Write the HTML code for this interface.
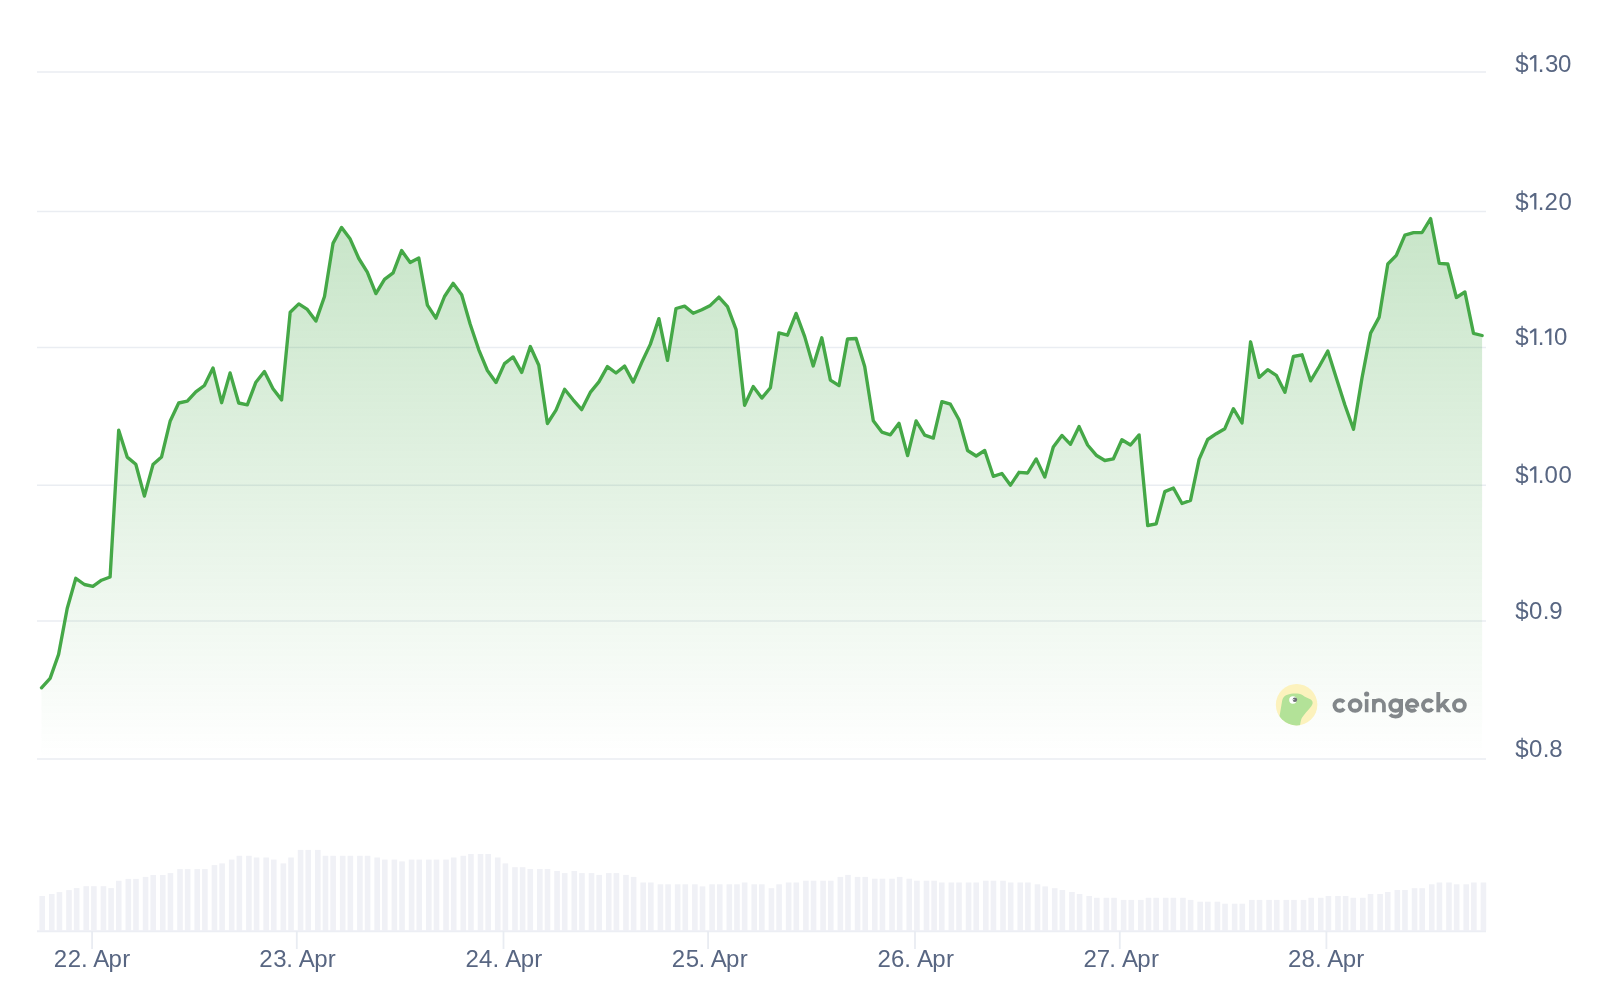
<!DOCTYPE html>
<html>
<head>
<meta charset="utf-8">
<title>Price chart</title>
<style>
html,body{margin:0;padding:0;background:#ffffff;}
body{width:1600px;height:1005px;overflow:hidden;font-family:"Liberation Sans",sans-serif;}
svg{display:block;will-change:transform;}
.lbl{font-family:"Liberation Sans",sans-serif;font-size:24px;fill:#586682;}
</style>
</head>
<body>
<svg width="1600" height="1005" viewBox="0 0 1600 1005">
<defs>
<linearGradient id="ag" gradientUnits="userSpaceOnUse" x1="0" y1="218" x2="0" y2="759">
<stop offset="0" stop-color="#45a847" stop-opacity="0.30"/>
<stop offset="1" stop-color="#45a847" stop-opacity="0"/>
</linearGradient>
<clipPath id="kc"><rect x="1438" y="699.1" width="14" height="13.15"/></clipPath>
<clipPath id="lc"><circle cx="1296.6" cy="704.7" r="20.75"/></clipPath>
</defs>

<g stroke="#eaedf2" stroke-width="1.5" fill="none">
<line x1="37" y1="72.0" x2="1486" y2="72.0"/>
<line x1="37" y1="211.4" x2="1486" y2="211.4"/>
<line x1="37" y1="347.4" x2="1486" y2="347.4"/>
<line x1="37" y1="485.2" x2="1486" y2="485.2"/>
<line x1="37" y1="621.1" x2="1486" y2="621.1"/>
<line x1="37" y1="759.0" x2="1486" y2="759.0"/>
</g>
<g fill="#f0f1f6">
<rect x="39.40" y="896.0" width="5.6" height="34.5"/>
<rect x="48.97" y="894.0" width="5.6" height="36.5"/>
<rect x="56.63" y="892.1" width="5.6" height="38.4"/>
<rect x="66.20" y="890.1" width="5.6" height="40.4"/>
<rect x="73.85" y="888.1" width="5.6" height="42.4"/>
<rect x="83.42" y="886.2" width="5.6" height="44.2"/>
<rect x="91.08" y="886.2" width="5.6" height="44.2"/>
<rect x="100.65" y="886.2" width="5.6" height="44.2"/>
<rect x="108.30" y="888.1" width="5.6" height="42.4"/>
<rect x="115.96" y="880.8" width="5.6" height="49.8"/>
<rect x="125.53" y="878.9" width="5.6" height="51.6"/>
<rect x="133.19" y="878.9" width="5.6" height="51.6"/>
<rect x="142.76" y="876.9" width="5.6" height="53.6"/>
<rect x="150.41" y="875.0" width="5.6" height="55.5"/>
<rect x="159.98" y="875.0" width="5.6" height="55.5"/>
<rect x="167.64" y="873.1" width="5.6" height="57.4"/>
<rect x="177.21" y="869.1" width="5.6" height="61.4"/>
<rect x="184.86" y="869.1" width="5.6" height="61.4"/>
<rect x="194.43" y="869.1" width="5.6" height="61.4"/>
<rect x="202.09" y="869.1" width="5.6" height="61.4"/>
<rect x="211.66" y="865.1" width="5.6" height="65.4"/>
<rect x="219.32" y="863.4" width="5.6" height="67.1"/>
<rect x="228.89" y="859.6" width="5.6" height="70.9"/>
<rect x="236.54" y="855.8" width="5.6" height="74.8"/>
<rect x="246.11" y="855.8" width="5.6" height="74.8"/>
<rect x="253.77" y="857.5" width="5.6" height="73.0"/>
<rect x="263.34" y="857.5" width="5.6" height="73.0"/>
<rect x="270.99" y="859.6" width="5.6" height="70.9"/>
<rect x="280.56" y="863.4" width="5.6" height="67.1"/>
<rect x="288.22" y="857.5" width="5.6" height="73.0"/>
<rect x="297.79" y="849.9" width="5.6" height="80.6"/>
<rect x="305.45" y="849.9" width="5.6" height="80.6"/>
<rect x="315.02" y="849.9" width="5.6" height="80.6"/>
<rect x="322.67" y="855.8" width="5.6" height="74.8"/>
<rect x="330.33" y="855.8" width="5.6" height="74.8"/>
<rect x="339.90" y="855.8" width="5.6" height="74.8"/>
<rect x="347.55" y="855.8" width="5.6" height="74.8"/>
<rect x="357.12" y="855.8" width="5.6" height="74.8"/>
<rect x="364.78" y="855.8" width="5.6" height="74.8"/>
<rect x="374.35" y="857.5" width="5.6" height="73.0"/>
<rect x="382.01" y="859.6" width="5.6" height="70.9"/>
<rect x="391.58" y="859.6" width="5.6" height="70.9"/>
<rect x="399.23" y="861.4" width="5.6" height="69.1"/>
<rect x="408.80" y="859.6" width="5.6" height="70.9"/>
<rect x="416.46" y="859.6" width="5.6" height="70.9"/>
<rect x="426.03" y="859.6" width="5.6" height="70.9"/>
<rect x="433.68" y="859.6" width="5.6" height="70.9"/>
<rect x="443.25" y="859.6" width="5.6" height="70.9"/>
<rect x="450.91" y="857.5" width="5.6" height="73.0"/>
<rect x="460.48" y="855.8" width="5.6" height="74.8"/>
<rect x="468.14" y="854.0" width="5.6" height="76.5"/>
<rect x="477.71" y="854.0" width="5.6" height="76.5"/>
<rect x="485.36" y="854.0" width="5.6" height="76.5"/>
<rect x="494.93" y="857.5" width="5.6" height="73.0"/>
<rect x="502.59" y="863.4" width="5.6" height="67.1"/>
<rect x="512.16" y="867.2" width="5.6" height="63.3"/>
<rect x="519.81" y="867.2" width="5.6" height="63.3"/>
<rect x="527.47" y="869.0" width="5.6" height="61.5"/>
<rect x="537.04" y="869.0" width="5.6" height="61.5"/>
<rect x="544.70" y="869.0" width="5.6" height="61.5"/>
<rect x="554.27" y="871.0" width="5.6" height="59.5"/>
<rect x="561.92" y="873.1" width="5.6" height="57.4"/>
<rect x="571.49" y="871.0" width="5.6" height="59.5"/>
<rect x="579.15" y="873.1" width="5.6" height="57.4"/>
<rect x="588.72" y="873.1" width="5.6" height="57.4"/>
<rect x="596.37" y="874.9" width="5.6" height="55.6"/>
<rect x="605.94" y="873.1" width="5.6" height="57.4"/>
<rect x="613.60" y="873.1" width="5.6" height="57.4"/>
<rect x="623.17" y="874.9" width="5.6" height="55.6"/>
<rect x="630.83" y="876.9" width="5.6" height="53.6"/>
<rect x="640.40" y="882.5" width="5.6" height="48.0"/>
<rect x="648.05" y="882.5" width="5.6" height="48.0"/>
<rect x="657.62" y="884.3" width="5.6" height="46.2"/>
<rect x="665.28" y="884.3" width="5.6" height="46.2"/>
<rect x="674.85" y="884.3" width="5.6" height="46.2"/>
<rect x="682.50" y="884.3" width="5.6" height="46.2"/>
<rect x="692.07" y="884.3" width="5.6" height="46.2"/>
<rect x="699.73" y="886.4" width="5.6" height="44.1"/>
<rect x="709.30" y="884.3" width="5.6" height="46.2"/>
<rect x="716.96" y="884.3" width="5.6" height="46.2"/>
<rect x="726.53" y="884.3" width="5.6" height="46.2"/>
<rect x="734.18" y="884.3" width="5.6" height="46.2"/>
<rect x="741.84" y="882.5" width="5.6" height="48.0"/>
<rect x="751.41" y="884.3" width="5.6" height="46.2"/>
<rect x="759.06" y="884.3" width="5.6" height="46.2"/>
<rect x="768.63" y="888.2" width="5.6" height="42.3"/>
<rect x="776.29" y="884.3" width="5.6" height="46.2"/>
<rect x="785.86" y="882.5" width="5.6" height="48.0"/>
<rect x="793.52" y="882.5" width="5.6" height="48.0"/>
<rect x="803.09" y="880.7" width="5.6" height="49.8"/>
<rect x="810.74" y="880.7" width="5.6" height="49.8"/>
<rect x="820.31" y="880.7" width="5.6" height="49.8"/>
<rect x="827.97" y="880.7" width="5.6" height="49.8"/>
<rect x="837.54" y="876.9" width="5.6" height="53.6"/>
<rect x="845.19" y="874.9" width="5.6" height="55.6"/>
<rect x="854.76" y="876.9" width="5.6" height="53.6"/>
<rect x="862.42" y="876.9" width="5.6" height="53.6"/>
<rect x="871.99" y="878.7" width="5.6" height="51.8"/>
<rect x="879.65" y="878.7" width="5.6" height="51.8"/>
<rect x="889.22" y="878.7" width="5.6" height="51.8"/>
<rect x="896.87" y="876.9" width="5.6" height="53.6"/>
<rect x="906.44" y="878.7" width="5.6" height="51.8"/>
<rect x="914.10" y="880.7" width="5.6" height="49.8"/>
<rect x="923.67" y="880.7" width="5.6" height="49.8"/>
<rect x="931.32" y="880.7" width="5.6" height="49.8"/>
<rect x="938.98" y="882.5" width="5.6" height="48.0"/>
<rect x="948.55" y="882.5" width="5.6" height="48.0"/>
<rect x="956.21" y="882.5" width="5.6" height="48.0"/>
<rect x="965.78" y="882.5" width="5.6" height="48.0"/>
<rect x="973.43" y="882.5" width="5.6" height="48.0"/>
<rect x="983.00" y="880.7" width="5.6" height="49.8"/>
<rect x="990.66" y="880.7" width="5.6" height="49.8"/>
<rect x="1000.23" y="880.7" width="5.6" height="49.8"/>
<rect x="1007.88" y="882.5" width="5.6" height="48.0"/>
<rect x="1017.45" y="882.5" width="5.6" height="48.0"/>
<rect x="1025.11" y="882.5" width="5.6" height="48.0"/>
<rect x="1034.68" y="884.3" width="5.6" height="46.2"/>
<rect x="1042.34" y="886.4" width="5.6" height="44.1"/>
<rect x="1051.91" y="888.2" width="5.6" height="42.3"/>
<rect x="1059.56" y="890.0" width="5.6" height="40.5"/>
<rect x="1069.13" y="892.0" width="5.6" height="38.5"/>
<rect x="1076.79" y="894.0" width="5.6" height="36.5"/>
<rect x="1086.36" y="896.0" width="5.6" height="34.5"/>
<rect x="1094.01" y="897.8" width="5.6" height="32.7"/>
<rect x="1103.58" y="897.8" width="5.6" height="32.7"/>
<rect x="1111.24" y="897.8" width="5.6" height="32.7"/>
<rect x="1120.81" y="899.9" width="5.6" height="30.6"/>
<rect x="1128.47" y="899.9" width="5.6" height="30.6"/>
<rect x="1138.04" y="899.9" width="5.6" height="30.6"/>
<rect x="1145.69" y="897.8" width="5.6" height="32.7"/>
<rect x="1153.35" y="897.8" width="5.6" height="32.7"/>
<rect x="1162.92" y="897.8" width="5.6" height="32.7"/>
<rect x="1170.57" y="897.8" width="5.6" height="32.7"/>
<rect x="1180.14" y="897.8" width="5.6" height="32.7"/>
<rect x="1187.80" y="899.9" width="5.6" height="30.6"/>
<rect x="1197.37" y="901.7" width="5.6" height="28.8"/>
<rect x="1205.03" y="901.7" width="5.6" height="28.8"/>
<rect x="1214.60" y="901.7" width="5.6" height="28.8"/>
<rect x="1222.25" y="903.7" width="5.6" height="26.8"/>
<rect x="1231.82" y="903.7" width="5.6" height="26.8"/>
<rect x="1239.48" y="903.7" width="5.6" height="26.8"/>
<rect x="1249.05" y="899.9" width="5.6" height="30.6"/>
<rect x="1256.70" y="899.9" width="5.6" height="30.6"/>
<rect x="1266.27" y="899.9" width="5.6" height="30.6"/>
<rect x="1273.93" y="899.9" width="5.6" height="30.6"/>
<rect x="1283.50" y="899.9" width="5.6" height="30.6"/>
<rect x="1291.16" y="899.9" width="5.6" height="30.6"/>
<rect x="1300.73" y="899.9" width="5.6" height="30.6"/>
<rect x="1308.38" y="897.8" width="5.6" height="32.7"/>
<rect x="1317.95" y="897.8" width="5.6" height="32.7"/>
<rect x="1325.61" y="896.0" width="5.6" height="34.5"/>
<rect x="1335.18" y="896.0" width="5.6" height="34.5"/>
<rect x="1342.83" y="896.0" width="5.6" height="34.5"/>
<rect x="1350.49" y="897.8" width="5.6" height="32.7"/>
<rect x="1360.06" y="897.8" width="5.6" height="32.7"/>
<rect x="1367.72" y="894.0" width="5.6" height="36.5"/>
<rect x="1377.29" y="894.0" width="5.6" height="36.5"/>
<rect x="1384.94" y="892.0" width="5.6" height="38.5"/>
<rect x="1394.51" y="890.0" width="5.6" height="40.5"/>
<rect x="1402.17" y="890.0" width="5.6" height="40.5"/>
<rect x="1411.74" y="888.2" width="5.6" height="42.3"/>
<rect x="1419.39" y="888.2" width="5.6" height="42.3"/>
<rect x="1428.96" y="884.3" width="5.6" height="46.2"/>
<rect x="1436.62" y="882.5" width="5.6" height="48.0"/>
<rect x="1446.19" y="882.5" width="5.6" height="48.0"/>
<rect x="1453.85" y="884.3" width="5.6" height="46.2"/>
<rect x="1463.42" y="884.3" width="5.6" height="46.2"/>
<rect x="1471.07" y="882.5" width="5.6" height="48.0"/>
<rect x="1480.64" y="882.5" width="5.6" height="48.0"/>
</g>
<line x1="37" y1="931.2" x2="1486" y2="931.2" stroke="#eceef4" stroke-width="2"/>
<g stroke="#e9ecf2" stroke-width="1.8">
<line x1="92.1" y1="931" x2="92.1" y2="949"/>
<line x1="296.8" y1="931" x2="296.8" y2="949"/>
<line x1="503.5" y1="931" x2="503.5" y2="949"/>
<line x1="708.1" y1="931" x2="708.1" y2="949"/>
<line x1="915.0" y1="931" x2="915.0" y2="949"/>
<line x1="1119.8" y1="931" x2="1119.8" y2="949"/>
<line x1="1326.4" y1="931" x2="1326.4" y2="949"/>
</g>
<path d="M41.5 687.8 L50.1 678.4 L58.6 654.4 L67.2 608.5 L75.8 578.3 L84.4 584.5 L92.9 586.3 L101.5 580.2 L110.1 577.0 L118.7 430.2 L127.2 457.1 L135.8 464.2 L144.4 496.1 L153.0 464.6 L161.5 457.1 L170.1 421.3 L178.7 403.0 L187.3 401.2 L195.8 391.9 L204.4 385.5 L213.0 367.9 L221.6 402.7 L230.1 372.9 L238.7 403.0 L247.3 404.8 L255.9 382.2 L264.4 371.5 L273.0 388.8 L281.6 399.9 L290.2 312.2 L298.8 303.9 L307.3 309.4 L315.9 321.1 L324.5 296.5 L333.0 243.4 L341.6 227.4 L350.2 239.1 L358.8 258.5 L367.3 272.1 L375.9 293.6 L384.5 279.3 L393.1 272.8 L401.6 250.6 L410.2 262.6 L418.8 258.0 L427.4 305.1 L435.9 318.2 L444.5 296.5 L453.1 283.3 L461.7 294.8 L470.2 324.2 L478.8 349.8 L487.4 370.5 L496.0 382.5 L504.5 363.6 L513.1 356.9 L521.7 372.4 L530.3 346.5 L538.8 365.3 L547.4 423.5 L556.0 410.1 L564.6 389.3 L573.1 399.8 L581.7 409.6 L590.3 392.4 L598.9 381.9 L607.4 366.6 L616.0 373.0 L624.6 366.1 L633.2 382.1 L641.8 362.3 L650.3 344.4 L658.9 318.6 L667.5 360.4 L676.0 308.5 L684.6 306.1 L693.2 313.3 L701.8 309.7 L710.3 305.4 L718.9 297.1 L727.5 306.6 L736.1 329.6 L744.6 405.3 L753.2 386.6 L761.8 398.1 L770.4 387.8 L778.9 332.9 L787.5 335.2 L796.1 313.4 L804.7 336.6 L813.2 366.0 L821.8 337.8 L830.4 380.1 L839.0 385.6 L847.5 339.0 L856.1 338.5 L864.7 366.4 L873.3 420.7 L881.8 432.1 L890.4 434.8 L899.0 423.3 L907.6 455.6 L916.1 420.9 L924.7 435.2 L933.3 438.1 L941.9 401.6 L950.4 404.2 L959.0 419.7 L967.6 450.5 L976.2 456.0 L984.7 450.5 L993.3 476.3 L1001.9 473.5 L1010.5 485.2 L1019.0 472.3 L1027.6 473.0 L1036.2 458.9 L1044.8 477.1 L1053.3 447.0 L1061.9 435.4 L1070.5 444.3 L1079.1 426.6 L1087.6 445.0 L1096.2 455.2 L1104.8 460.5 L1113.4 458.8 L1121.9 439.7 L1130.5 445.0 L1139.1 434.9 L1147.7 525.5 L1156.2 523.8 L1164.8 491.6 L1173.4 488.0 L1182.0 503.5 L1190.5 500.4 L1199.1 459.3 L1207.7 439.5 L1216.3 433.7 L1224.8 428.7 L1233.4 408.7 L1242.0 423.0 L1250.6 341.8 L1259.1 377.4 L1267.7 369.7 L1276.3 375.3 L1284.9 392.3 L1293.4 356.5 L1302.0 354.8 L1310.6 380.8 L1319.2 366.5 L1327.8 351.0 L1336.3 378.0 L1344.9 405.0 L1353.5 429.3 L1362.0 378.0 L1370.6 333.1 L1379.2 317.1 L1387.8 264.0 L1396.3 255.4 L1404.9 235.1 L1413.5 232.7 L1422.1 232.5 L1430.6 218.6 L1439.2 263.3 L1447.8 264.0 L1456.4 297.5 L1464.9 292.0 L1473.5 333.3 L1482.1 335.5 L1482.1 759 L41.5 759 Z" fill="url(#ag)" stroke="none"/>
<path d="M41.5 687.8 L50.1 678.4 L58.6 654.4 L67.2 608.5 L75.8 578.3 L84.4 584.5 L92.9 586.3 L101.5 580.2 L110.1 577.0 L118.7 430.2 L127.2 457.1 L135.8 464.2 L144.4 496.1 L153.0 464.6 L161.5 457.1 L170.1 421.3 L178.7 403.0 L187.3 401.2 L195.8 391.9 L204.4 385.5 L213.0 367.9 L221.6 402.7 L230.1 372.9 L238.7 403.0 L247.3 404.8 L255.9 382.2 L264.4 371.5 L273.0 388.8 L281.6 399.9 L290.2 312.2 L298.8 303.9 L307.3 309.4 L315.9 321.1 L324.5 296.5 L333.0 243.4 L341.6 227.4 L350.2 239.1 L358.8 258.5 L367.3 272.1 L375.9 293.6 L384.5 279.3 L393.1 272.8 L401.6 250.6 L410.2 262.6 L418.8 258.0 L427.4 305.1 L435.9 318.2 L444.5 296.5 L453.1 283.3 L461.7 294.8 L470.2 324.2 L478.8 349.8 L487.4 370.5 L496.0 382.5 L504.5 363.6 L513.1 356.9 L521.7 372.4 L530.3 346.5 L538.8 365.3 L547.4 423.5 L556.0 410.1 L564.6 389.3 L573.1 399.8 L581.7 409.6 L590.3 392.4 L598.9 381.9 L607.4 366.6 L616.0 373.0 L624.6 366.1 L633.2 382.1 L641.8 362.3 L650.3 344.4 L658.9 318.6 L667.5 360.4 L676.0 308.5 L684.6 306.1 L693.2 313.3 L701.8 309.7 L710.3 305.4 L718.9 297.1 L727.5 306.6 L736.1 329.6 L744.6 405.3 L753.2 386.6 L761.8 398.1 L770.4 387.8 L778.9 332.9 L787.5 335.2 L796.1 313.4 L804.7 336.6 L813.2 366.0 L821.8 337.8 L830.4 380.1 L839.0 385.6 L847.5 339.0 L856.1 338.5 L864.7 366.4 L873.3 420.7 L881.8 432.1 L890.4 434.8 L899.0 423.3 L907.6 455.6 L916.1 420.9 L924.7 435.2 L933.3 438.1 L941.9 401.6 L950.4 404.2 L959.0 419.7 L967.6 450.5 L976.2 456.0 L984.7 450.5 L993.3 476.3 L1001.9 473.5 L1010.5 485.2 L1019.0 472.3 L1027.6 473.0 L1036.2 458.9 L1044.8 477.1 L1053.3 447.0 L1061.9 435.4 L1070.5 444.3 L1079.1 426.6 L1087.6 445.0 L1096.2 455.2 L1104.8 460.5 L1113.4 458.8 L1121.9 439.7 L1130.5 445.0 L1139.1 434.9 L1147.7 525.5 L1156.2 523.8 L1164.8 491.6 L1173.4 488.0 L1182.0 503.5 L1190.5 500.4 L1199.1 459.3 L1207.7 439.5 L1216.3 433.7 L1224.8 428.7 L1233.4 408.7 L1242.0 423.0 L1250.6 341.8 L1259.1 377.4 L1267.7 369.7 L1276.3 375.3 L1284.9 392.3 L1293.4 356.5 L1302.0 354.8 L1310.6 380.8 L1319.2 366.5 L1327.8 351.0 L1336.3 378.0 L1344.9 405.0 L1353.5 429.3 L1362.0 378.0 L1370.6 333.1 L1379.2 317.1 L1387.8 264.0 L1396.3 255.4 L1404.9 235.1 L1413.5 232.7 L1422.1 232.5 L1430.6 218.6 L1439.2 263.3 L1447.8 264.0 L1456.4 297.5 L1464.9 292.0 L1473.5 333.3 L1482.1 335.5" fill="none" stroke="#45a847" stroke-width="3.35" stroke-linejoin="round" stroke-linecap="round"/>
<text class="lbl" x="1515.25" y="71.5">$</text><path d="M-2.2 -16.6 L0 -16.6 L0 0 L-2.2 0 L-2.2 -14.0 L-5.9 -11.2 L-6.7 -13.2 Z" transform="translate(1536.40 71.5)" fill="#586682"/><text class="lbl" x="1537.80" y="71.5">.</text><text class="lbl" x="1544.90" y="71.5">3</text><text class="lbl" x="1558.00" y="71.5">0</text><rect x="1521.25" y="52.3" width="1.7" height="3.2" fill="#586682" opacity="0.8"/>
<text class="lbl" x="1515.25" y="209.5">$</text><path d="M-2.2 -16.6 L0 -16.6 L0 0 L-2.2 0 L-2.2 -14.0 L-5.9 -11.2 L-6.7 -13.2 Z" transform="translate(1536.40 209.5)" fill="#586682"/><text class="lbl" x="1537.80" y="209.5">.</text><text class="lbl" x="1544.60" y="209.5">2</text><text class="lbl" x="1558.40" y="209.5">0</text><rect x="1521.25" y="190.3" width="1.7" height="3.2" fill="#586682" opacity="0.8"/>
<text class="lbl" x="1515.25" y="345.0">$</text><path d="M-2.2 -16.6 L0 -16.6 L0 0 L-2.2 0 L-2.2 -14.0 L-5.9 -11.2 L-6.7 -13.2 Z" transform="translate(1536.40 345.0)" fill="#586682"/><text class="lbl" x="1537.80" y="345.0">.</text><path d="M-2.2 -16.6 L0 -16.6 L0 0 L-2.2 0 L-2.2 -14.0 L-5.9 -11.2 L-6.7 -13.2 Z" transform="translate(1551.40 345.0)" fill="#586682"/><text class="lbl" x="1553.90" y="345.0">0</text><rect x="1521.25" y="325.8" width="1.7" height="3.2" fill="#586682" opacity="0.8"/>
<text class="lbl" x="1515.25" y="482.8">$</text><path d="M-2.2 -16.6 L0 -16.6 L0 0 L-2.2 0 L-2.2 -14.0 L-5.9 -11.2 L-6.7 -13.2 Z" transform="translate(1536.40 482.8)" fill="#586682"/><text class="lbl" x="1537.80" y="482.8">.</text><text class="lbl" x="1544.50" y="482.8">0</text><text class="lbl" x="1558.40" y="482.8">0</text><rect x="1521.25" y="463.6" width="1.7" height="3.2" fill="#586682" opacity="0.8"/>
<text class="lbl" x="1515.25" y="618.9">$</text><text class="lbl" x="1529.10" y="618.9">0</text><text class="lbl" x="1542.80" y="618.9">.</text><text class="lbl" x="1549.20" y="618.9">9</text><rect x="1521.25" y="599.7" width="1.7" height="3.2" fill="#586682" opacity="0.8"/>
<text class="lbl" x="1515.25" y="756.9">$</text><text class="lbl" x="1529.10" y="756.9">0</text><text class="lbl" x="1542.80" y="756.9">.</text><text class="lbl" x="1549.30" y="756.9">8</text><rect x="1521.25" y="737.7" width="1.7" height="3.2" fill="#586682" opacity="0.8"/>
<text class="lbl" y="966.5" x="53.79 67.69 80.92 85.25 93.15 108.55 122.25">22. Apr</text>
<text class="lbl" y="966.5" x="259.19 273.19 286.37 290.70 298.75 314.25 327.85">23. Apr</text>
<text class="lbl" y="966.5" x="465.54 478.95 492.47 496.80 505.25 520.75 534.35">24. Apr</text>
<text class="lbl" y="966.5" x="671.69 685.79 698.57 702.90 710.65 726.05 739.75">25. Apr</text>
<text class="lbl" y="966.5" x="877.39 890.88 904.37 908.70 917.05 932.25 946.05">26. Apr</text>
<text class="lbl" y="966.5" x="1083.54 1096.67 1109.37 1113.70 1122.05 1137.25 1151.05">27. Apr</text>
<text class="lbl" y="966.5" x="1287.89 1301.56 1315.07 1319.40 1327.25 1342.75 1356.35">28. Apr</text>
<g id="wm">
<circle cx="1296.6" cy="704.7" r="20.75" fill="#fcf2bd"/>
<g clip-path="url(#lc)">
<path d="M1279.4 716.8 C1280.6 711 1281.4 705 1282.2 700.6 C1283 696.6 1285.6 694.6 1291 693.7 C1295.5 693.2 1299.5 693.4 1302.4 695 C1305 697.2 1308 697.9 1310.8 699.5 C1313.2 701.2 1313.2 703.6 1311.1 706.6 C1308 710.4 1304.2 714.4 1301.8 718 C1300.4 721.2 1300.2 724.5 1299.8 727 L1279 727 Z" fill="#b3e298"/>
</g>
<circle cx="1292.9" cy="700" r="3.7" fill="#ffffff"/>
<circle cx="1294.9" cy="699.7" r="2.25" fill="#6c7075"/>
<circle cx="1293.8" cy="699.6" r="0.65" fill="#ffffff"/>
<g fill="none" stroke="#82878a" stroke-width="3.9" stroke-linecap="butt" stroke-linejoin="round">
<path d="M1343.95 702.2 A5.3 5.3 0 1 0 1344.05 708.65"/>
<ellipse cx="1355.1" cy="705.5" rx="5.4" ry="5.3"/>
<path d="M1366.65 699.1 V712.25" stroke-width="3.6"/>
<path d="M1373.9 699.1 V712.25 M1373.9 705.3 A5.02 5.1 0 0 1 1383.95 705.3 V712.25" stroke-width="3.7"/>
<circle cx="1395.55" cy="705.5" r="5.3"/>
<path d="M1401.1 699.1 V711.6 C1401.1 715.2 1398.7 716.6 1395.6 716.6 C1393.2 716.6 1391.3 715.9 1389.9 714.5" stroke-width="3.8"/>
<path d="M1406.9 706.3 H1417.6" stroke-width="2.8"/>
<path d="M1417.36 706.15 A5.3 5.3 0 1 0 1415.71 709.38"/>
<path d="M1432.45 702.2 A5.3 5.3 0 1 0 1432.55 708.65"/>
<path d="M1438.3 692 V712.25" stroke-width="3.85"/>
<g clip-path="url(#kc)"><path d="M1448.2 698.1 L1439.5 707.4 M1442.9 704.3 L1449.9 713.25" stroke-width="3.7"/></g>
<ellipse cx="1459.4" cy="705.5" rx="5.4" ry="5.3"/>
</g>
<circle cx="1366.65" cy="694" r="2.6" fill="#82878a"/>
</g>

</svg>
</body>
</html>
